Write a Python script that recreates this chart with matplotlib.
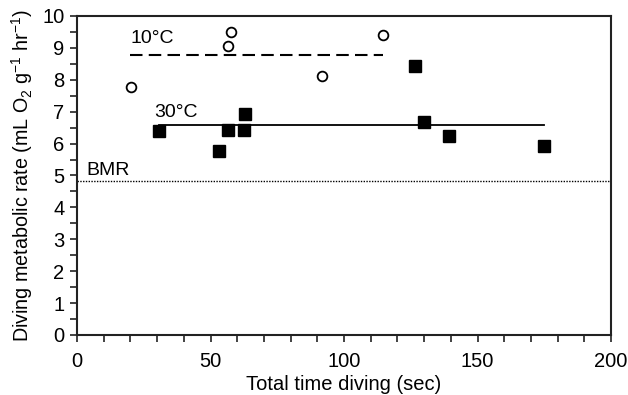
import matplotlib
matplotlib.use("Agg")
import matplotlib.pyplot as plt
from matplotlib.ticker import MultipleLocator

plt.rcParams['font.family'] = ['Liberation Sans', 'DejaVu Sans']
plt.rcParams['mathtext.fontset'] = 'custom'
plt.rcParams['mathtext.rm'] = 'Liberation Sans'
plt.rcParams['mathtext.it'] = 'Liberation Sans:italic'

# Data
time_10C = [20.1, 56.7, 57.5, 91.6, 114.5]
rate_10C = [7.78, 9.07, 9.51, 8.12, 9.41]
time_30C = [30.7, 53.3, 56.6, 62.7, 62.9, 126.4, 129.9, 139.4, 174.8]
rate_30C = [6.39, 5.77, 6.42, 6.42, 6.92, 8.43, 6.68, 6.23, 5.93]
mean_10C = 8.78
mean_10C_range = [20.0, 114.7]
mean_30C = 6.57
mean_30C_range = [30.7, 175.0]
bmr = 4.83

fig = plt.figure(figsize=(6.28, 3.95), dpi=100)
ax = fig.add_axes([0.1226, 0.152, 0.8504, 0.8075])

ax.axhline(bmr, color='black', linestyle=(0, (1, 1)), linewidth=1.0, zorder=1)
ax.plot(mean_10C_range, [mean_10C, mean_10C], color='black', linestyle=(0, (6, 3)), linewidth=1.5, zorder=2)
ax.plot(mean_30C_range, [mean_30C, mean_30C], color='black', linestyle='-', linewidth=1.3, zorder=2)
ax.plot(time_10C, rate_10C, linestyle='none', marker='o', markersize=7,
        markerfacecolor='white', markeredgecolor='black', markeredgewidth=1.3, zorder=3)
ax.plot(time_30C, rate_30C, linestyle='none', marker='s', markersize=8,
        markerfacecolor='black', markeredgecolor='black', zorder=3)

ax.text(20, 9.15, '10°C', fontsize=14, ha='left', va='baseline')
ax.text(28.8, 6.83, '30°C', fontsize=14, ha='left', va='baseline')
ax.text(3.5, 5.02, 'BMR', fontsize=14, ha='left', va='baseline')

ax.set_xlim(0, 200)
ax.set_ylim(0, 10)
ax.xaxis.set_major_locator(MultipleLocator(50))
ax.xaxis.set_minor_locator(MultipleLocator(10))
ax.yaxis.set_major_locator(MultipleLocator(1))
ax.yaxis.set_minor_locator(MultipleLocator(0.5))
ax.tick_params(which='both', direction='out', width=1.2, length=5, color='#222222', labelsize=14.5)
ax.tick_params(axis='x', pad=7)
ax.tick_params(axis='y', pad=4)
for s in ax.spines.values():
    s.set_linewidth(1.5)
    s.set_color('#222222')

ax.set_xlabel('Total time diving (sec)', fontsize=14.5, labelpad=3)
ax.set_ylabel('Diving metabolic rate (mL O$_2$ g$^{-1}$ hr$^{-1}$)', fontsize=14.2, labelpad=5)

fig.savefig('out.png', dpi=100)
